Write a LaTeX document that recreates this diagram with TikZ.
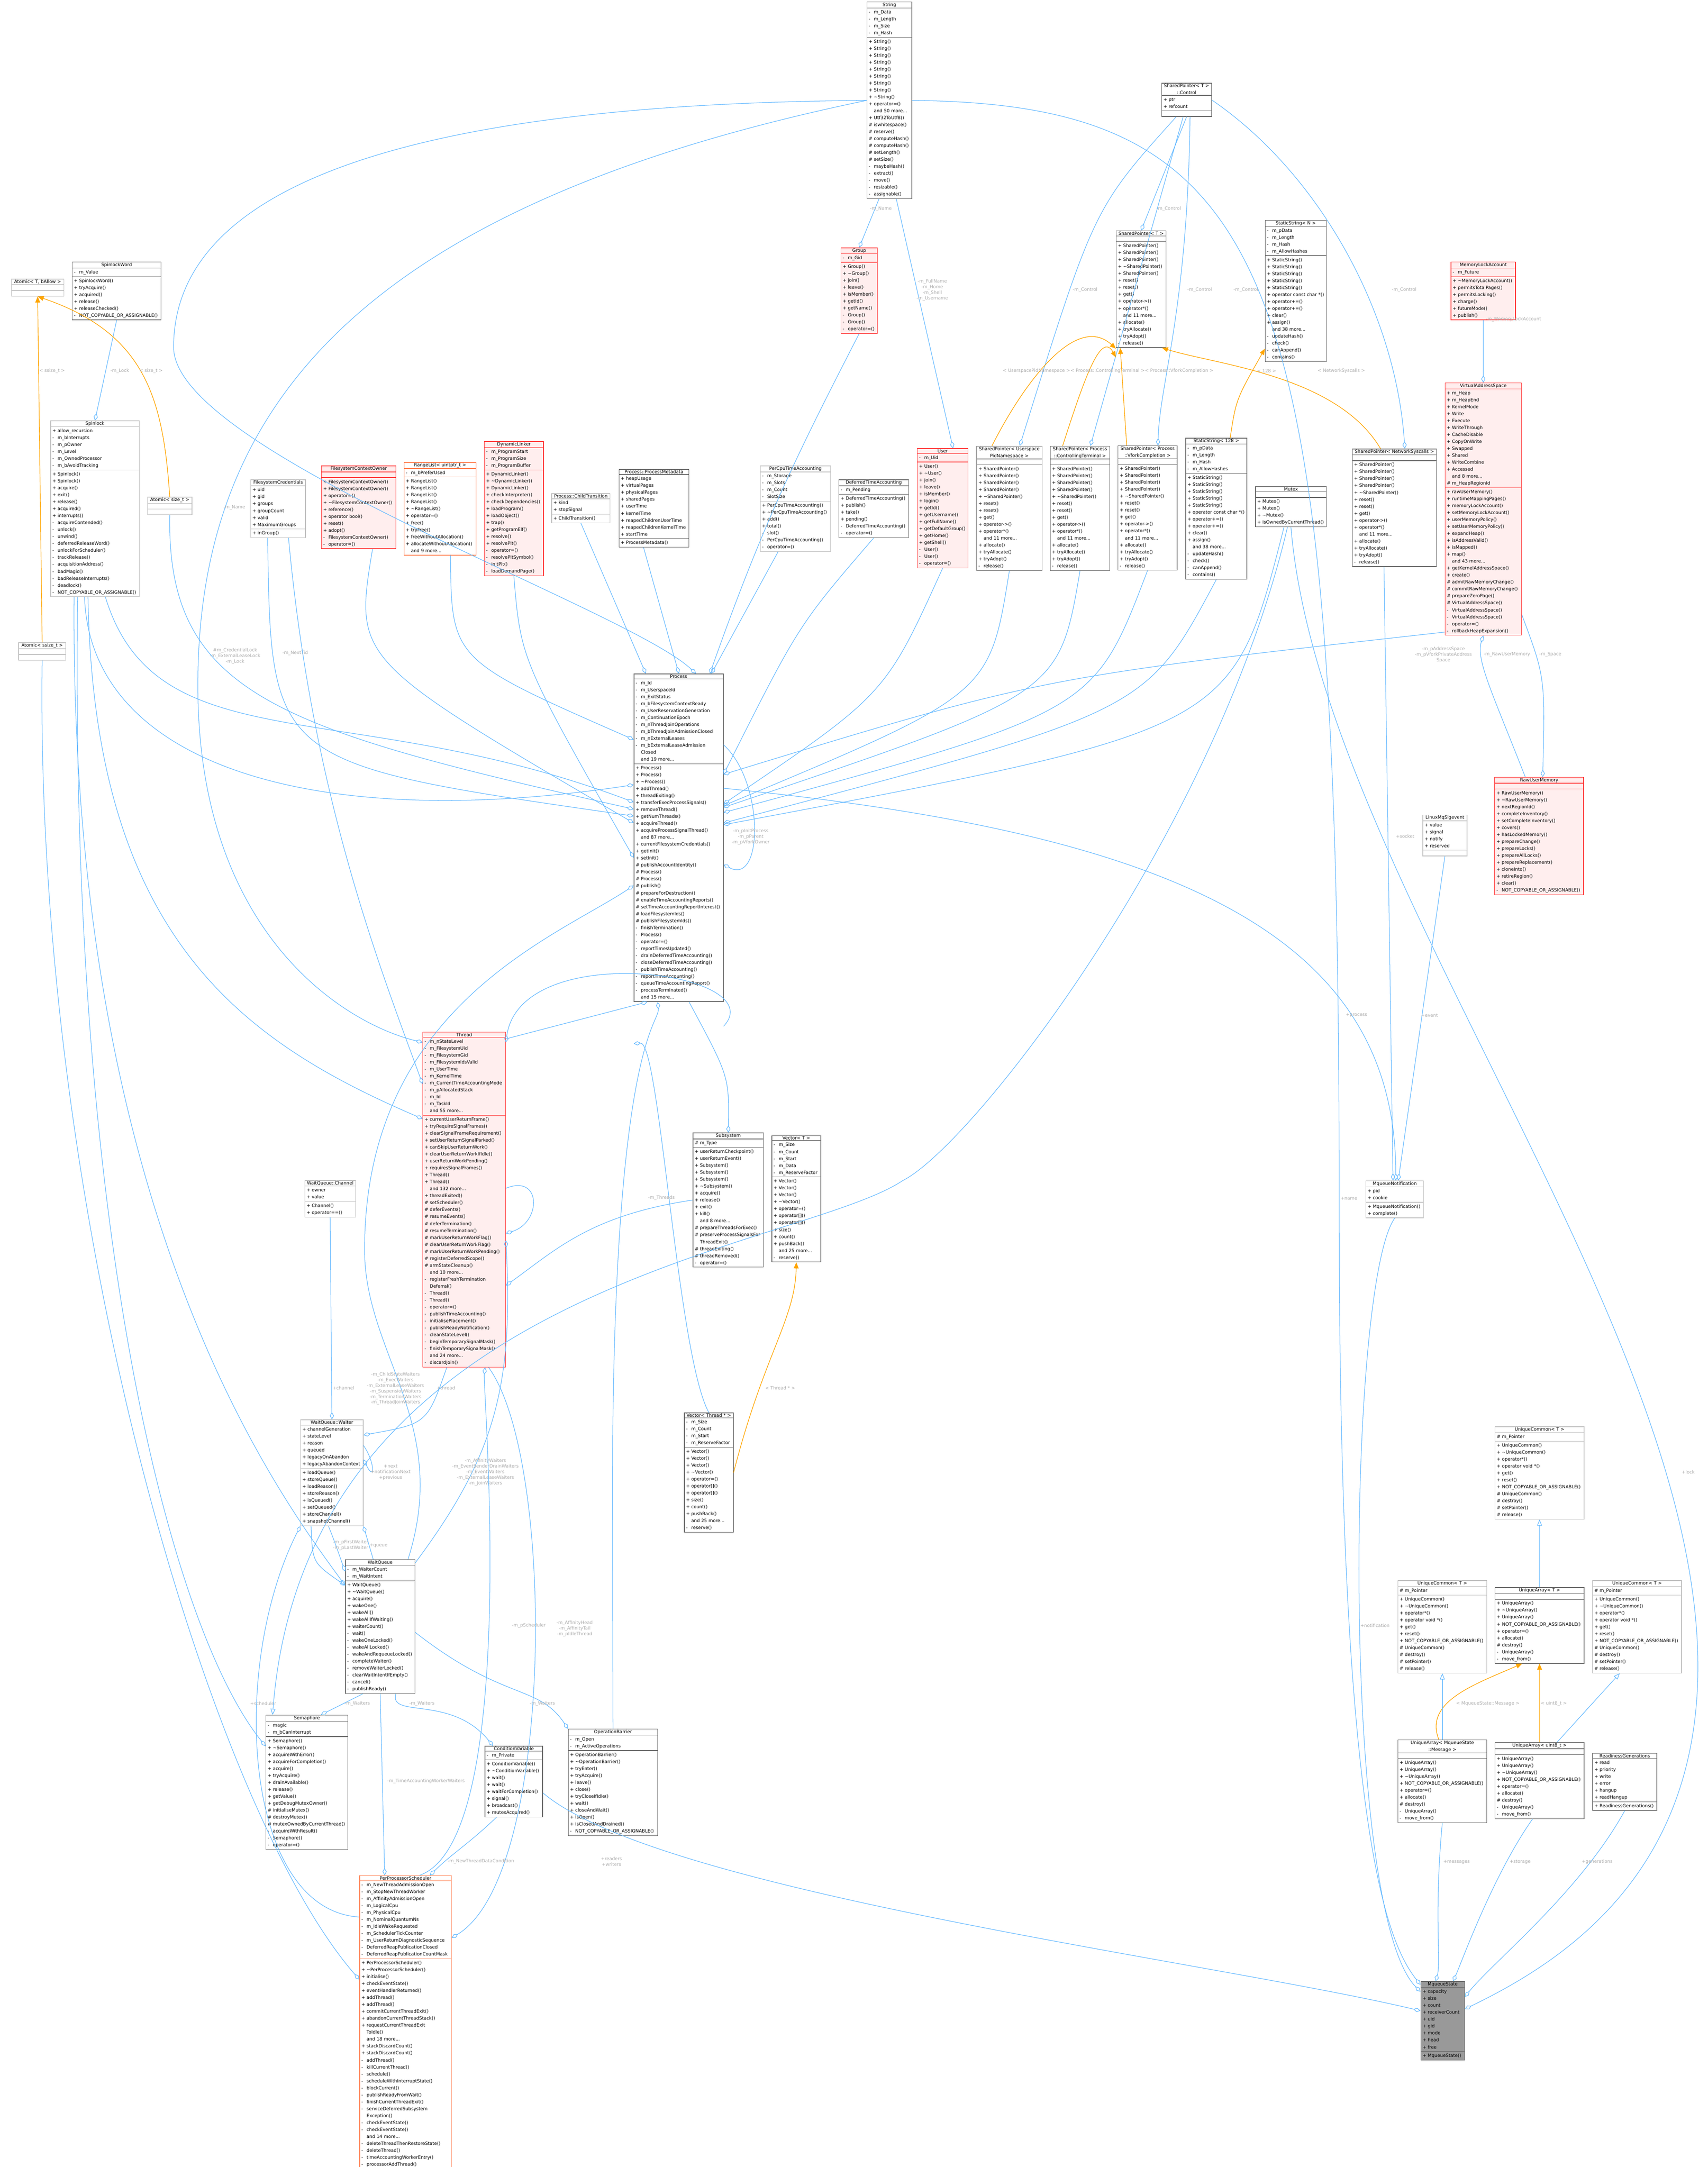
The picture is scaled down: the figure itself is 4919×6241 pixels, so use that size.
\documentclass[tikz,border=0pt]{standalone}
\usepackage{fontspec}
\setmainfont{DejaVu Sans}
\usetikzlibrary{shapes.multipart,arrows.meta}
\definecolor{eb}{HTML}{63B8FF}
\definecolor{dg}{HTML}{666666}
\definecolor{lg}{HTML}{BFBFBF}
\definecolor{rb}{HTML}{FF3333}
\definecolor{rf}{HTML}{FFEEEE}
\definecolor{ob}{HTML}{FF7F50}
\definecolor{or}{HTML}{FFA500}
\definecolor{lt}{HTML}{ABABAB}
\definecolor{mq}{HTML}{999999}
\newcommand\tl{\textasciitilde}
\newcommand\Pu{+&}
\newcommand\Mi{-&}
\newcommand\Pt{\#&}
\newcommand\Nn{&}
\newcommand\R[1]{\begin{tabular}{@{}p{0.15cm}@{}l@{}}#1\end{tabular}}
\newcommand\E{\rule{0pt}{0.12cm}}
\newcommand\ttl[1]{\parbox{\linewidth}{\centering #1}}
\newcommand\uml[8]{\node[cls,#2,text width=#5] (#1) at (#3,-#4) {\ttl{#6}\nodepart{two}#7\nodepart{three}#8};}
\tikzset{
 cls/.style={rectangle split,rectangle split parts=3,draw=dg,fill=white,line width=0.5pt,anchor=north west,inner xsep=0.05cm,inner ysep=0.4pt,align=left,font=\fontsize{3.7}{5.69}\selectfont},
 dk/.style={draw=dg},
 lgt/.style={draw=lg},
 red/.style={draw=rb,fill=rf},
 org/.style={draw=ob},
 gry/.style={draw=dg,fill=mq},
 agg/.style={draw=eb,line width=0.45pt,-{Diamond[open,length=6pt,width=3.4pt]}},
 tpl/.style={draw=or,line width=0.5pt,-{Triangle[length=5pt,width=4pt,fill=or]}},
 inh/.style={draw=eb,line width=0.45pt,-{Triangle[open,length=5pt,width=4pt,fill=white]}},
 lbl/.style={text=lt,align=center,font=\fontsize{3.7}{4.6}\selectfont,inner sep=0.5pt}
}
\begin{document}
\begin{tikzpicture}[x=0.01cm,y=0.01cm]
\useasboundingbox (0,0) rectangle (4919,-6241);
% ---------------- boxes ----------------
\uml{atT}{lgt}{32}{803}{1.41cm}{Atomic< T, bAllow >}{\E}{\E}
\uml{sw}{dk}{207}{754}{2.46cm}{SpinlockWord}{\R{\Mi m\_Value}}{\R{\Pu SpinlockWord()\\ \Pu tryAcquire()\\ \Pu acquired()\\ \Pu release()\\ \Pu releaseChecked()\\ \Mi NOT\_COPYABLE\_OR\_ASSIGNABLE()}}
\uml{spin}{lgt}{145}{1211}{2.45cm}{Spinlock}{\R{\Pu allow\_recursion\\ \Mi m\_bInterrupts\\ \Mi m\_pOwner\\ \Mi m\_Level\\ \Mi m\_OwnedProcessor\\ \Mi m\_bAvoidTracking}}{\R{\Pu Spinlock()\\ \Pu Spinlock()\\ \Pu acquire()\\ \Pu exit()\\ \Pu release()\\ \Pu acquired()\\ \Pu interrupts()\\ \Mi acquireContended()\\ \Mi unlock()\\ \Mi unwind()\\ \Mi deferredReleaseWord()\\ \Mi unlockForScheduler()\\ \Mi trackRelease()\\ \Mi acquisitionAddress()\\ \Mi badMagic()\\ \Mi badReleaseInterrupts()\\ \Mi deadlock()\\ \Mi NOT\_COPYABLE\_OR\_ASSIGNABLE()}}
\uml{ats}{lgt}{424}{1431}{1.18cm}{Atomic< size\_t >}{\E}{\E}
\uml{atss}{lgt}{53}{1850}{1.25cm}{Atomic< ssize\_t >}{\E}{\E}
\uml{fcred}{lgt}{721}{1381}{1.48cm}{FilesystemCredentials}{\R{\Pu uid\\ \Pu gid\\ \Pu groups\\ \Pu groupCount\\ \Pu valid\\ \Pu MaximumGroups}}{\R{\Pu inGroup()}}
\uml{fctx}{red}{925}{1341}{2.04cm}{FilesystemContextOwner}{\E}{\R{\Pu FilesystemContextOwner()\\ \Pu FilesystemContextOwner()\\ \Pu operator=()\\ \Pu \tl FilesystemContextOwner()\\ \Pu reference()\\ \Pu operator bool()\\ \Pu reset()\\ \Pu adopt()\\ \Mi FilesystemContextOwner()\\ \Mi operator=()}}
\uml{rl}{org}{1163}{1331}{1.97cm}{RangeList< uintptr\_t >}{\R{\Mi m\_bPreferUsed}}{\R{\Pu RangeList()\\ \Pu RangeList()\\ \Pu RangeList()\\ \Pu RangeList()\\ \Pu \tl RangeList()\\ \Pu operator=()\\ \Pu free()\\ \Pu tryFree()\\ \Pu freeWithoutAllocation()\\ \Pu allocateWithoutAllocation()\\ \Nn and 9 more...}}
\uml{dl}{red}{1394}{1271}{1.60cm}{DynamicLinker}{\R{\Mi m\_ProgramStart\\ \Mi m\_ProgramSize\\ \Mi m\_ProgramBuffer}}{\R{\Pu DynamicLinker()\\ \Pu \tl DynamicLinker()\\ \Pu DynamicLinker()\\ \Pu checkInterpreter()\\ \Pu checkDependencies()\\ \Pu loadProgram()\\ \Pu loadObject()\\ \Pu trap()\\ \Pu getProgramElf()\\ \Pu resolve()\\ \Pu resolvePlt()\\ \Mi operator=()\\ \Mi resolvePltSymbol()\\ \Mi initPlt()\\ \Mi loadDemandPage()}}
\uml{ct}{lgt}{1588}{1421}{1.58cm}{Process::ChildTransition}{\R{\Pu kind\\ \Pu stopSignal}}{\R{\Pu ChildTransition()}}
\uml{pm}{dk}{1782}{1351}{1.91cm}{Process::ProcessMetadata}{\R{\Pu heapUsage\\ \Pu virtualPages\\ \Pu physicalPages\\ \Pu sharedPages\\ \Pu userTime\\ \Pu kernelTime\\ \Pu reapedChildrenUserTime\\ \Pu reapedChildrenKernelTime\\ \Pu startTime}}{\R{\Pu ProcessMetadata()}}
\uml{pcta}{lgt}{2189}{1341}{1.92cm}{PerCpuTimeAccounting}{\R{\Mi m\_Storage\\ \Mi m\_Slots\\ \Mi m\_Count\\ \Mi SlotSize}}{\R{\Pu PerCpuTimeAccounting()\\ \Pu \tl PerCpuTimeAccounting()\\ \Pu add()\\ \Pu total()\\ \Mi slot()\\ \Mi PerCpuTimeAccounting()\\ \Mi operator=()}}
\uml{dta}{dk}{2415}{1381}{1.91cm}{DeferredTimeAccounting}{\R{\Mi m\_Pending}}{\R{\Pu DeferredTimeAccounting()\\ \Pu publish()\\ \Pu take()\\ \Pu pending()\\ \Mi DeferredTimeAccounting()\\ \Mi operator=()}}
\uml{user}{red}{2641}{1291}{1.36cm}{User}{\R{\Mi m\_Uid}}{\R{\Pu User()\\ \Pu \tl User()\\ \Pu join()\\ \Pu leave()\\ \Pu isMember()\\ \Pu login()\\ \Pu getId()\\ \Pu getUsername()\\ \Pu getFullName()\\ \Pu getDefaultGroup()\\ \Pu getHome()\\ \Pu getShell()\\ \Mi User()\\ \Mi User()\\ \Mi operator=()}}
\newcommand\SPM{\R{\Pu SharedPointer()\\ \Pu SharedPointer()\\ \Pu SharedPointer()\\ \Pu SharedPointer()\\ \Pu \tl SharedPointer()\\ \Pu reset()\\ \Pu reset()\\ \Pu get()\\ \Pu operator->()\\ \Pu operator*()\\ \Nn and 11 more...\\ \Pu allocate()\\ \Pu tryAllocate()\\ \Pu tryAdopt()\\ \Mi release()}}
\uml{spu}{dk}{2812}{1284}{1.78cm}{SharedPointer< Userspace\\PidNamespace >}{\E}{\SPM}
\uml{spct}{dk}{3024}{1284}{1.61cm}{SharedPointer< Process\\::ControllingTerminal >}{\E}{\SPM}
\uml{spvf}{dk}{3219}{1283}{1.60cm}{SharedPointer< Process\\::VforkCompletion >}{\E}{\SPM}
\newcommand\SSA{\R{\Mi m\_pData\\ \Mi m\_Length\\ \Mi m\_Hash\\ \Mi m\_AllowHashes}}
\newcommand\SSM{\R{\Pu StaticString()\\ \Pu StaticString()\\ \Pu StaticString()\\ \Pu StaticString()\\ \Pu StaticString()\\ \Pu operator const char *()\\ \Pu operator+=()\\ \Pu operator+=()\\ \Pu clear()\\ \Pu assign()\\ \Nn and 38 more...\\ \Mi updateHash()\\ \Mi check()\\ \Mi canAppend()\\ \Mi contains()}}
\uml{ss128}{dk}{3414}{1261}{1.66cm}{StaticString< 128 >}{\SSA}{\SSM}
\uml{mutex}{dk}{3615}{1401}{1.94cm}{Mutex}{\E}{\R{\Pu Mutex()\\ \Pu Mutex()\\ \Pu \tl Mutex()\\ \Pu isOwnedByCurrentThread()}}
\uml{spnet}{dk}{3894}{1292}{2.32cm}{SharedPointer< NetworkSyscalls >}{\E}{\SPM}
\uml{str}{dk}{2496}{5}{1.19cm}{String}{\R{\Mi m\_Data\\ \Mi m\_Length\\ \Mi m\_Size\\ \Mi m\_Hash}}{\R{\Pu String()\\ \Pu String()\\ \Pu String()\\ \Pu String()\\ \Pu String()\\ \Pu String()\\ \Pu String()\\ \Pu String()\\ \Pu \tl String()\\ \Pu operator=()\\ \Nn and 50 more...\\ \Pu Utf32ToUtf8()\\ \Pt iswhitespace()\\ \Pt reserve()\\ \Pt computeHash()\\ \Pt computeHash()\\ \Pt setLength()\\ \Pt setSize()\\ \Mi maybeHash()\\ \Mi extract()\\ \Mi move()\\ \Mi resizable()\\ \Mi assignable()}}
\uml{grp}{red}{2421}{713}{0.95cm}{Group}{\R{\Mi m\_Gid}}{\R{\Pu Group()\\ \Pu \tl Group()\\ \Pu join()\\ \Pu leave()\\ \Pu isMember()\\ \Pu getId()\\ \Pu getName()\\ \Mi Group()\\ \Mi Group()\\ \Mi operator=()}}
\uml{ctl}{dk}{3345}{239}{1.33cm}{SharedPointer< T >\\::Control}{\R{\Pu ptr\\ \Pu refcount}}{\E}
\uml{spT}{dk}{3214}{664}{1.33cm}{SharedPointer< T >}{\E}{\R{\Pu SharedPointer()\\ \Pu SharedPointer()\\ \Pu SharedPointer()\\ \Pu \tl SharedPointer()\\ \Pu SharedPointer()\\ \Pu reset()\\ \Pu reset()\\ \Pu get()\\ \Pu operator->()\\ \Pu operator*()\\ \Nn and 11 more...\\ \Pu allocate()\\ \Pu tryAllocate()\\ \Pu tryAdopt()\\ \Mi release()}}
\uml{ssN}{dk}{3643}{634}{1.66cm}{StaticString< N >}{\SSA}{\SSM}
\uml{mla}{red}{4178}{754}{1.76cm}{MemoryLockAccount}{\R{\Mi m\_Future}}{\R{\Pu \tl MemoryLockAccount()\\ \Pu permitsTotalPages()\\ \Pu permitsLocking()\\ \Pu charge()\\ \Pu futureMode()\\ \Pu publish()}}
\uml{vas}{red}{4161}{1102}{2.10cm}{VirtualAddressSpace}{\R{\Pu m\_Heap\\ \Pu m\_HeapEnd\\ \Pu KernelMode\\ \Pu Write\\ \Pu Execute\\ \Pu WriteThrough\\ \Pu CacheDisable\\ \Pu CopyOnWrite\\ \Pu Swapped\\ \Pu Shared\\ \Pu WriteCombine\\ \Pu Accessed\\ \Nn and 8 more...\\ \Pt m\_HeapRegionId}}{\R{\Pu rawUserMemory()\\ \Pu runtimeMappingPages()\\ \Pu memoryLockAccount()\\ \Pu setMemoryLockAccount()\\ \Pu userMemoryPolicy()\\ \Pu setUserMemoryPolicy()\\ \Pu expandHeap()\\ \Pu isAddressValid()\\ \Pu isMapped()\\ \Pu map()\\ \Nn and 43 more...\\ \Pu getKernelAddressSpace()\\ \Pu create()\\ \Pt admitRawMemoryChange()\\ \Pt commitRawMemoryChange()\\ \Pt prepareZeroPage()\\ \Pt VirtualAddressSpace()\\ \Mi VirtualAddressSpace()\\ \Mi VirtualAddressSpace()\\ \Mi operator=()\\ \Mi rollbackHeapExpansion()}}
\uml{rum}{red}{4304}{2238}{2.46cm}{RawUserMemory}{\E}{\R{\Pu RawUserMemory()\\ \Pu \tl RawUserMemory()\\ \Pu nextRegionId()\\ \Pu completeInventory()\\ \Pu setCompleteInventory()\\ \Pu covers()\\ \Pu hasLockedMemory()\\ \Pu prepareChange()\\ \Pu prepareLocks()\\ \Pu prepareAllLocks()\\ \Pu prepareReplacement()\\ \Pu cloneInto()\\ \Pu retireRegion()\\ \Pu clear()\\ \Mi NOT\_COPYABLE\_OR\_ASSIGNABLE()}}
\uml{lmq}{lgt}{4097}{2346}{1.17cm}{LinuxMqSigevent}{\R{\Pu value\\ \Pu signal\\ \Pu notify\\ \Pu reserved}}{\E}
\uml{mqn}{lgt}{3933}{3400}{1.56cm}{MqueueNotification}{\R{\Pu pid\\ \Pu cookie}}{\R{\Pu MqueueNotification()\\ \Pu complete()}}
\uml{proc}{dk}{1825}{1940}{2.47cm}{Process}{\R{\Mi m\_Id\\ \Mi m\_UserspaceId\\ \Mi m\_ExitStatus\\ \Mi m\_bFilesystemContextReady\\ \Mi m\_UserReservationGeneration\\ \Mi m\_ContinuationEpoch\\ \Mi m\_nThreadJoinOperations\\ \Mi m\_bThreadJoinAdmissionClosed\\ \Mi m\_nExternalLeases\\ \Mi m\_bExternalLeaseAdmission\\ \Nn Closed\\ \Nn and 19 more...}}{\R{\Pu Process()\\ \Pu Process()\\ \Pu \tl Process()\\ \Pu addThread()\\ \Pu threadExiting()\\ \Pu transferExecProcessSignals()\\ \Pu removeThread()\\ \Pu getNumThreads()\\ \Pu acquireThread()\\ \Pu acquireProcessSignalThread()\\ \Nn and 87 more...\\ \Pu currentFilesystemCredentials()\\ \Pu getInit()\\ \Pu setInit()\\ \Pt publishAccountIdentity()\\ \Pt Process()\\ \Pt Process()\\ \Pt publish()\\ \Pt prepareForDestruction()\\ \Pt enableTimeAccountingReports()\\ \Pt setTimeAccountingReportInterest()\\ \Pt loadFilesystemIds()\\ \Pt publishFilesystemIds()\\ \Mi finishTermination()\\ \Mi Process()\\ \Mi operator=()\\ \Mi reportTimesUpdated()\\ \Mi drainDeferredTimeAccounting()\\ \Mi closeDeferredTimeAccounting()\\ \Mi publishTimeAccounting()\\ \Mi reportTimeAccounting()\\ \Mi queueTimeAccountingReport()\\ \Mi processTerminated()\\ \Nn and 15 more...}}
\uml{thr}{red}{1217}{2972}{2.28cm}{Thread}{\R{\Mi m\_nStateLevel\\ \Mi m\_FilesystemUid\\ \Mi m\_FilesystemGid\\ \Mi m\_FilesystemIdsValid\\ \Mi m\_UserTime\\ \Mi m\_KernelTime\\ \Mi m\_CurrentTimeAccountingMode\\ \Mi m\_pAllocatedStack\\ \Mi m\_Id\\ \Mi m\_TaskId\\ \Nn and 55 more...}}{\R{\Pu currentUserReturnFrame()\\ \Pu tryRequireSignalFrames()\\ \Pu clearSignalFrameRequirement()\\ \Pu setUserReturnSignalParked()\\ \Pu canSkipUserReturnWork()\\ \Pu clearUserReturnWorkIfIdle()\\ \Pu userReturnWorkPending()\\ \Pu requiresSignalFrames()\\ \Pu Thread()\\ \Pu Thread()\\ \Nn and 132 more...\\ \Pu threadExited()\\ \Pt setScheduler()\\ \Pt deferEvents()\\ \Pt resumeEvents()\\ \Pt deferTermination()\\ \Pt resumeTermination()\\ \Pt markUserReturnWorkFlag()\\ \Pt clearUserReturnWorkFlag()\\ \Pt markUserReturnWorkPending()\\ \Pt registerDeferredScope()\\ \Pt armStateCleanup()\\ \Nn and 10 more...\\ \Mi registerFreshTermination\\ \Nn Deferral()\\ \Mi Thread()\\ \Mi Thread()\\ \Mi operator=()\\ \Mi publishTimeAccounting()\\ \Mi initialisePlacement()\\ \Mi publishReadyNotification()\\ \Mi cleanStateLevel()\\ \Mi beginTemporarySignalMask()\\ \Mi finishTemporarySignalMask()\\ \Nn and 24 more...\\ \Mi discardJoin()}}
\uml{subs}{dk}{1995}{3262}{1.93cm}{Subsystem}{\R{\Pt m\_Type}}{\R{\Pu userReturnCheckpoint()\\ \Pu userReturnEvent()\\ \Pu Subsystem()\\ \Pu Subsystem()\\ \Pu Subsystem()\\ \Pu \tl Subsystem()\\ \Pu acquire()\\ \Pu release()\\ \Pu exit()\\ \Pu kill()\\ \Nn and 8 more...\\ \Pt prepareThreadsForExec()\\ \Pt preserveProcessSignalsFor\\ \Nn ThreadExit()\\ \Pt threadExiting()\\ \Pt threadRemoved()\\ \Mi operator=()}}
\newcommand\VEM{\R{\Pu Vector()\\ \Pu Vector()\\ \Pu Vector()\\ \Pu \tl Vector()\\ \Pu operator=()\\ \Pu operator[]()\\ \Pu operator[]()\\ \Pu size()\\ \Pu count()\\ \Pu pushBack()\\ \Nn and 25 more...\\ \Mi reserve()}}
\uml{vecT}{dk}{2222}{3270}{1.31cm}{Vector< T >}{\R{\Mi m\_Size\\ \Mi m\_Count\\ \Mi m\_Start\\ \Mi m\_Data\\ \Mi m\_ReserveFactor}}{\VEM}
\uml{vecTh}{dk}{1970}{4068}{1.31cm}{Vector< Thread * >}{\R{\Mi m\_Size\\ \Mi m\_Count\\ \Mi m\_Start\\ \Mi m\_ReserveFactor}}{\VEM}
\uml{chan}{lgt}{877}{3399}{1.36cm}{WaitQueue::Channel}{\R{\Pu owner\\ \Pu value}}{\R{\Pu Channel()\\ \Pu operator==()}}
\uml{wtr}{lgt}{865}{4088}{1.70cm}{WaitQueue::Waiter}{\R{\Pu channelGeneration\\ \Pu stateLevel\\ \Pu reason\\ \Pu queued\\ \Pu legacyOnAbandon\\ \Pu legacyAbandonContext}}{\R{\Pu loadQueue()\\ \Pu storeQueue()\\ \Pu loadReason()\\ \Pu storeReason()\\ \Pu isQueued()\\ \Pu setQueued()\\ \Pu storeChannel()\\ \Pu snapshotChannel()}}
\uml{wq}{dk}{994}{4491}{1.90cm}{WaitQueue}{\R{\Mi m\_WaiterCount\\ \Mi m\_WaitIntent}}{\R{\Pu WaitQueue()\\ \Pu \tl WaitQueue()\\ \Pu acquire()\\ \Pu wakeOne()\\ \Pu wakeAll()\\ \Pu wakeAllIfWaiting()\\ \Pu waiterCount()\\ \Mi wait()\\ \Mi wakeOneLocked()\\ \Mi wakeAllLocked()\\ \Mi wakeAndRequeueLocked()\\ \Mi completeWaiter()\\ \Mi removeWaiterLocked()\\ \Mi clearWaitIntentIfEmpty()\\ \Mi cancel()\\ \Mi publishReady()}}
\uml{sem}{dk}{765}{4939}{2.26cm}{Semaphore}{\R{\Mi magic\\ \Mi m\_bCanInterrupt}}{\R{\Pu Semaphore()\\ \Pu \tl Semaphore()\\ \Pu acquireWithError()\\ \Pu acquireForCompletion()\\ \Pu acquire()\\ \Pu tryAcquire()\\ \Pu drainAvailable()\\ \Pu release()\\ \Pu getValue()\\ \Pu getDebugMutexOwner()\\ \Pt initialiseMutex()\\ \Pt destroyMutex()\\ \Pt mutexOwnedByCurrentThread()\\ \Mi acquireWithResult()\\ \Mi Semaphore()\\ \Mi operator=()}}
\uml{cv}{dk}{1396}{5028}{1.56cm}{ConditionVariable}{\R{\Mi m\_Private}}{\R{\Pu ConditionVariable()\\ \Pu \tl ConditionVariable()\\ \Pu wait()\\ \Pu wait()\\ \Pu waitForCompletion()\\ \Pu signal()\\ \Pu broadcast()\\ \Pu mutexAcquired()}}
\uml{ob}{dk}{1636}{4979}{2.47cm}{OperationBarrier}{\R{\Mi m\_Open\\ \Mi m\_ActiveOperations}}{\R{\Pu OperationBarrier()\\ \Pu \tl OperationBarrier()\\ \Pu tryEnter()\\ \Pu tryAcquire()\\ \Pu leave()\\ \Pu close()\\ \Pu tryCloseIfIdle()\\ \Pu wait()\\ \Pu closeAndWait()\\ \Pu isOpen()\\ \Pu isClosedAndDrained()\\ \Mi NOT\_COPYABLE\_OR\_ASSIGNABLE()}}
\uml{pps}{org}{1035}{5401}{2.54cm}{PerProcessorScheduler}{\R{\Mi m\_NewThreadAdmissionOpen\\ \Mi m\_StopNewThreadWorker\\ \Mi m\_AffinityAdmissionOpen\\ \Mi m\_LogicalCpu\\ \Mi m\_PhysicalCpu\\ \Mi m\_NominalQuantumNs\\ \Mi m\_IdleWakeRequested\\ \Mi m\_SchedulerTickCounter\\ \Mi m\_UserReturnDiagnosticSequence\\ \Mi DeferredReapPublicationClosed\\ \Mi DeferredReapPublicationCountMask}}{\R{\Pu PerProcessorScheduler()\\ \Pu \tl PerProcessorScheduler()\\ \Pu initialise()\\ \Pu checkEventState()\\ \Pu eventHandlerReturned()\\ \Pu addThread()\\ \Pu addThread()\\ \Pu commitCurrentThreadExit()\\ \Pu abandonCurrentThreadStack()\\ \Pu requestCurrentThreadExit\\ \Nn ToIdle()\\ \Nn and 18 more...\\ \Pu stackDiscardCount()\\ \Pu stackDiscardCount()\\ \Mi addThread()\\ \Mi killCurrentThread()\\ \Mi schedule()\\ \Mi scheduleWithInterruptState()\\ \Mi blockCurrent()\\ \Mi publishReadyFromWait()\\ \Mi finishCurrentThreadExit()\\ \Mi serviceDeferredSubsystem\\ \Nn Exception()\\ \Mi checkEventState()\\ \Mi checkEventState()\\ \Nn and 14 more...\\ \Mi deleteThreadThenRestoreState()\\ \Mi deleteThread()\\ \Mi timeAccountingWorkerEntry()\\ \Mi processorAddThread()}}
\newcommand\UCA{\R{\Pt m\_Pointer}}
\newcommand\UCM{\R{\Pu UniqueCommon()\\ \Pu \tl UniqueCommon()\\ \Pu operator*()\\ \Pu operator void *()\\ \Pu get()\\ \Pu reset()\\ \Pu NOT\_COPYABLE\_OR\_ASSIGNABLE()\\ \Pt UniqueCommon()\\ \Pt destroy()\\ \Pt setPointer()\\ \Pt release()}}
\uml{ucT}{lgt}{4305}{4108}{2.46cm}{UniqueCommon< T >}{\UCA}{\UCM}
\uml{ucL}{lgt}{4025}{4551}{2.46cm}{UniqueCommon< T >}{\UCA}{\UCM}
\uml{ucR}{lgt}{4586}{4551}{2.46cm}{UniqueCommon< T >}{\UCA}{\UCM}
\uml{uaT}{dk}{4305}{4571}{2.46cm}{UniqueArray< T >}{\E}{\R{\Pu UniqueArray()\\ \Pu \tl UniqueArray()\\ \Pu UniqueArray()\\ \Pu NOT\_COPYABLE\_OR\_ASSIGNABLE()\\ \Pu operator=()\\ \Pu allocate()\\ \Pt destroy()\\ \Mi UniqueArray()\\ \Mi move\_from()}}
\uml{uaM}{dk}{4025}{5010}{2.46cm}{UniqueArray< MqueueState\\::Message >}{\E}{\R{\Pu UniqueArray()\\ \Pu UniqueArray()\\ \Pu \tl UniqueArray()\\ \Pu NOT\_COPYABLE\_OR\_ASSIGNABLE()\\ \Pu operator=()\\ \Pu allocate()\\ \Pt destroy()\\ \Mi UniqueArray()\\ \Mi move\_from()}}
\uml{ua8}{dk}{4305}{5018}{2.46cm}{UniqueArray< uint8\_t >}{\E}{\R{\Pu UniqueArray()\\ \Pu UniqueArray()\\ \Pu \tl UniqueArray()\\ \Pu NOT\_COPYABLE\_OR\_ASSIGNABLE()\\ \Pu operator=()\\ \Pu allocate()\\ \Pt destroy()\\ \Mi UniqueArray()\\ \Mi move\_from()}}
\uml{rg}{dk}{4586}{5049}{1.75cm}{ReadinessGenerations}{\R{\Pu read\\ \Pu priority\\ \Pu write\\ \Pu error\\ \Pu hangup\\ \Pu readHangup}}{\R{\Pu ReadinessGenerations()}}
\uml{mqs}{gry}{4091}{5706}{1.16cm}{MqueueState}{\R{\Pu capacity\\ \Pu size\\ \Pu count\\ \Pu receiverCount\\ \Pu uid\\ \Pu gid\\ \Pu mode\\ \Pu head\\ \Pu free}}{\R{\Pu MqueueState()}}
% ---------------- connectors ----------------
\draw[agg] (sw.south) -- (spin.north);
\node[lbl] at (345,-1068) {-m\_Lock};
\draw[tpl] (atss.north) -- (atT.south);
\node[lbl] at (150,-1068) {< ssize\_t >};
\draw[tpl] (ats.north) .. controls (470,-1150) and (420,-960) .. (atT.south);
\node[lbl] at (435,-1068) {< size\_t >};
\draw[agg] ([xshift=-0.3cm]str.south) -- (grp.north);
\node[lbl] at (2537,-601) {-m\_Name};
\draw[agg] ([xshift=0.2cm]str.south) -- ([xshift=0.3cm]user.north);
\node[lbl] at (2685,-835) {-m\_FullName\\-m\_Home\\-m\_Shell\\-m\_Username};
\draw[agg] (ctl.south) -- (spT.north);
\node[lbl] at (3366,-601) {-m\_Control};
\draw[agg] ([xshift=-0.3cm]ctl.south) .. controls (3150,-600) .. ([xshift=0.3cm]spu.north);
\node[lbl] at (3125,-835) {-m\_Control};
\draw[agg] ([xshift=-0.1cm]ctl.south) -- ([xshift=0.3cm]spct.north);
\node[lbl] at (3455,-835) {-m\_Control};
\draw[agg] ([xshift=0.1cm]ctl.south) .. controls (3420,-900) and (3340,-1100) .. ([xshift=0.3cm]spvf.north);
\node[lbl] at (3588,-835) {-m\_Control};
\draw[agg] (ctl.east) .. controls (3800,-500) and (4020,-900) .. ([xshift=0.3cm]spnet.north);
\node[lbl] at (4044,-835) {-m\_Control};
\draw[tpl] ([xshift=-0.5cm]spu.north) .. controls (2950,-1100) and (3100,-900) .. ([yshift=-3.4cm]spT.north west);
\node[lbl] at (2985,-1068) {< UserspacePidNamespace >};
\draw[tpl] ([xshift=-0.5cm]spct.north) .. controls (3120,-1100) and (3170,-950) .. ([yshift=-3.65cm]spT.north west);
\node[lbl] at (3190,-1068) {< Process::ControllingTerminal >};
\draw[tpl] ([xshift=-0.6cm]spvf.north) -- ([xshift=-0.6cm]spT.south);
\node[lbl] at (3396,-1068) {< Process::VforkCompletion >};
\draw[tpl] ([xshift=-0.4cm]spnet.north) .. controls (3850,-1080) and (3500,-1050) .. ([xshift=0.6cm]spT.south);
\node[lbl] at (3863,-1068) {< NetworkSyscalls >};
\draw[tpl] ([xshift=0.4cm]ss128.north) .. controls (3560,-1150) .. ([yshift=-3.7cm]ssN.north west);
\node[lbl] at (3648,-1068) {< 128 >};
\draw[agg] (mla.south) -- (vas.north);
\node[lbl,anchor=west] at (4277,-920) {-m\_MemoryLockAccount};
\draw[agg] ([xshift=-0.4cm]rum.north) .. controls (4300,-2000) and (4250,-1900) .. (vas.south);
\node[lbl] at (4340,-1885) {-m\_RawUserMemory};
\draw[agg] ([yshift=0.6cm]vas.south east) .. controls (4450,-1950) .. ([xshift=0.1cm]rum.north);
\node[lbl] at (4465,-1885) {-m\_Space};
\draw[agg] ([yshift=0.1cm]vas.south west) .. controls (3000,-1950) .. ([yshift=-2.9cm]proc.north east);
\node[lbl] at (4157,-1885) {-m\_pAddressSpace\\-m\_pVforkPrivateAddress\\Space};
\draw[agg] (lmq.south) -- ([xshift=0.1cm]mqn.north);
\node[lbl] at (4117,-2924) {+event};
\draw[agg] ([xshift=-0.3cm]spnet.south) -- ([xshift=-0.05cm]mqn.north);
\node[lbl] at (4047,-2408) {+socket};
\draw[agg] ([yshift=-3.3cm]proc.north east) .. controls (3400,-2400) and (4020,-2700) .. ([xshift=0.03cm]mqn.north);
\node[lbl] at (3907,-2924) {+process};
\draw[agg] (str.east) .. controls (3700,-300) and (3857,-800) .. (3857,-3500) .. controls (3857,-5300) and (4000,-5600) .. ([yshift=-0.1cm]mqs.north west);
\node[lbl] at (3885,-3452) {+name};
\draw[agg] (mqn.south) .. controls (3880,-3700) and (3860,-5500) .. ([yshift=-0.3cm]mqs.north west);
\node[lbl] at (3960,-4681) {+notification};
\draw[agg] (mutex.south) .. controls (3800,-2500) and (4890,-3800) .. (4890,-4800) .. controls (4890,-5400) and (4500,-5650) .. ([yshift=-0.8cm]mqs.north east);
\node[lbl] at (4862,-4239) {+lock};
\draw[agg] (uaM.south) .. controls (4130,-5500) and (4150,-5650) .. ([xshift=-0.2cm]mqs.north);
\draw[agg] ([xshift=-0.2cm]ua8.south) .. controls (4300,-5400) and (4210,-5650) .. ([xshift=0.3cm]mqs.north);
\node[lbl] at (4195,-5362) {+messages};
\node[lbl] at (4378,-5362) {+storage};
\draw[agg] (rg.south) .. controls (4550,-5450) and (4300,-5650) .. ([yshift=-0.45cm]mqs.north east);
\node[lbl] at (4600,-5362) {+generations};
\draw[agg] ([yshift=0.7cm]cv.south east) .. controls (1900,-5450) and (3500,-5650) .. ([yshift=-0.85cm]mqs.north west);
\node[lbl] at (1761,-5361) {+readers\\+writers};
\draw[tpl] ([xshift=-0.1cm]uaM.north) .. controls (4100,-4900) and (4250,-4850) .. ([xshift=-0.5cm]uaT.south);
\node[lbl] at (4285,-4906) {< MqueueState::Message >};
\draw[tpl] (ua8.north) -- (uaT.south);
\node[lbl] at (4475,-4906) {< uint8\_t >};
\draw[inh] (uaT.north) -- (ucT.south);
\draw[inh] (uaM.north) -- (ucL.south);
\draw[inh] ([xshift=0.5cm]ua8.north) -- ([xshift=-0.5cm]ucR.south);
% wait queue area
\draw[agg] (chan.south) -- (wtr.north);
\node[lbl] at (989,-3998) {+channel};
\draw[agg] ([xshift=-0.5cm]thr.south) .. controls (1230,-4100) .. ([yshift=-0.45cm]wtr.north east);
\node[lbl] at (1284,-3998) {+thread};
\draw[agg] ([yshift=-0.75cm]wtr.north east) .. controls (1080,-4210) and (1080,-4270) .. ([yshift=-1.15cm]wtr.north east);
\node[lbl] at (1125,-4240) {+next\\+notificationNext\\+previous};
\draw[agg] ([xshift=-0.1cm]wtr.south) .. controls (960,-4430) .. ([yshift=-0.35cm]wq.north west);
\draw[agg] ([xshift=-0.6cm]wtr.south) .. controls (900,-4500) .. ([yshift=-0.75cm]wq.north west);
\node[lbl] at (1010,-4450) {-m\_pFirstWaiter\\-m\_pLastWaiter};
\draw[agg] ([xshift=-0.2cm]wq.north) -- (wtr.south east);
\node[lbl] at (1090,-4452) {+queue};
\draw[agg] ([xshift=0.8cm]wq.north) .. controls (1300,-4100) and (1050,-3900) .. (1050,-3600) .. controls (1050,-2900) and (1600,-2700) .. ([yshift=-6.1cm]proc.north west);
\node[lbl] at (1139,-3999) {-m\_ChildStateWaiters\\-m\_ExecWaiters\\-m\_ExternalLeaseWaiters\\-m\_SuspensionWaiters\\-m\_TerminationWaiters\\-m\_ThreadJoinWaiters};
\draw[agg] ([yshift=-0.1cm]wq.north east) .. controls (1420,-4200) and (1480,-4000) .. ([yshift=-6.0cm]thr.north east);
\node[lbl] at (1398,-4240) {-m\_AffinityWaiters\\-m\_EventSenderDrainWaiters\\-m\_EventWaiters\\-m\_ExternalLeaseWaiters\\-m\_JoinWaiters};
\draw[agg] ([xshift=-0.5cm]wq.south) -- ([xshift=0.4cm]sem.north);
\node[lbl] at (1029,-4906) {-m\_Waiters};
\draw[agg] ([xshift=0.45cm]wq.south) .. controls (1120,-4950) and (1300,-4880) .. ([xshift=-0.6cm]cv.north);
\node[lbl] at (1215,-4906) {-m\_Waiters};
\draw[agg] ([yshift=-2.1cm]wq.north east) .. controls (1450,-4900) and (1550,-4850) .. (ob.north west);
\node[lbl] at (1562,-4906) {-m\_Waiters};
\draw[agg] (wq.south) -- ([xshift=-0.6cm]pps.north);
\node[lbl] at (1227,-5130) {-m\_TimeAccountingWorkerWaiters};
\draw[agg] ([yshift=-1.2cm]pps.north west) .. controls (700,-5500) and (660,-4800) .. (wtr.south west);
\node[lbl] at (758,-4906) {+scheduler};
\draw[agg] ([xshift=0.4cm]pps.north) .. controls (1500,-5300) and (1390,-4000) .. ([xshift=0.6cm]thr.south);
\node[lbl] at (1523,-4682) {-m\_pScheduler};
\draw[agg] ([xshift=0.7cm]thr.south) .. controls (1600,-4200) and (1600,-5400) .. ([yshift=-1.8cm]pps.north east);
\node[lbl] at (1655,-4690) {-m\_AffinityHead\\-m\_AffinityTail\\-m\_pIdleThread};
\draw[agg] ([xshift=-0.5cm]cv.south) .. controls (1350,-5310) and (1300,-5340) .. ([xshift=0.7cm]pps.north);
\node[lbl] at (1385,-5361) {-m\_NewThreadDataCondition};
\draw[agg] (ob.north) -- (1764,-4300) .. controls (1764,-3000) and (1900,-2950) .. ([xshift=-0.6cm]proc.south);
% Process/Thread hub
\draw[agg] ([yshift=-0.2cm]thr.north east) -- ([xshift=-0.9cm]proc.south);
\draw[agg] ([xshift=0.3cm]proc.south) .. controls (2100,-3100) .. (subs.north);
\draw[agg] ([yshift=-0.7cm]proc.south east) .. controls (2230,-2800) and (1500,-2700) .. ([yshift=-0.3cm]thr.north east);
\draw[agg] ([yshift=-2.05cm]proc.north east) .. controls (2200,-2250) and (2200,-2550) .. ([yshift=-5.5cm]proc.north east);
\node[lbl,anchor=west] at (2105,-2410) {-m\_pInitProcess\\-m\_pParent\\-m\_pVforkOwner};
\draw[agg] ([yshift=-4.5cm]thr.north east) .. controls (1560,-3380) and (1560,-3520) .. ([yshift=-5.8cm]thr.north east);
\draw[agg] (vecTh.north) .. controls (1950,-3900) and (1900,-3000) .. ([yshift=-1.2cm]proc.south west);
\node[lbl] at (1905,-3450) {-m\_Threads};
\draw[tpl] (vecTh.east) .. controls (2200,-3900) and (2290,-3800) .. (vecT.south);
\node[lbl] at (2247,-3998) {< Thread * >};
\draw[agg] (subs.west) .. controls (1700,-3500) and (1600,-3600) .. ([yshift=-7.3cm]thr.north east);
% sources into Process
\draw[agg] ([xshift=-0.3cm]spin.south) .. controls (260,-2200) and (900,-2400) .. ([yshift=-3.2cm]proc.north west);
\draw[agg] ([xshift=0.3cm]spin.south) .. controls (450,-2200) and (1000,-2000) .. ([yshift=-3.7cm]proc.north west);
\node[lbl] at (677,-1890) {\#m\_CredentialLock\\-m\_ExternalLeaseLock\\-m\_Lock};
\draw[agg] ([xshift=-0.2cm]spin.south) .. controls (270,-2700) and (700,-3000) .. ([yshift=-2.5cm]thr.north west);
\draw[agg] ([xshift=-0.5cm]spin.south) .. controls (200,-3600) and (500,-4700) .. ([yshift=-0.9cm]sem.north west);
\draw[agg] ([xshift=-0.6cm]spin.south) .. controls (200,-3500) and (800,-4300) .. ([yshift=-0.75cm]wq.north west);
\draw[agg] (ats.south) .. controls (480,-2000) and (800,-2100) .. ([yshift=-3.9cm]proc.north west);
\node[lbl] at (850,-1881) {-m\_NextTid};
\draw[agg] (atss.south) .. controls (100,-3500) and (600,-5200) .. ([yshift=-3.0cm]pps.north west);
\draw[agg] (str.west) .. controls (1000,-600) and (560,-1200) .. (570,-2000) .. controls (580,-2700) and (1000,-2950) .. ([yshift=-0.3cm]thr.north west);
\node[lbl] at (675,-1462) {-m\_Name};
\draw[agg] ([xshift=-0.3cm]fcred.south) .. controls (780,-2200) .. ([yshift=-4.1cm]proc.north west);
\draw[agg] ([xshift=0.3cm]fcred.south) .. controls (900,-2300) and (1100,-2800) .. ([yshift=-1.5cm]thr.north west);
\draw[agg] ([xshift=0.4cm]fctx.south) .. controls (1020,-1900) .. ([yshift=-4.3cm]proc.north west);
\draw[agg] ([xshift=0.3cm]rl.south) .. controls (1300,-1900) .. ([yshift=-1.9cm]proc.north west);
\draw[agg] (dl.south) .. controls (1500,-1900) .. ([yshift=-5.3cm]proc.north west);
\draw[agg] (ct.south) -- ([xshift=0.35cm]proc.north west);
\draw[agg] ([xshift=-0.3cm]pm.south) -- ([xshift=1.3cm]proc.north west);
\draw[agg] ([xshift=-0.5cm]pcta.south) -- ([xshift=-0.35cm]proc.north east);
\draw[agg] (dta.south) .. controls (2300,-1800) .. ([yshift=-2.9cm]proc.north east);
\draw[agg] (user.south) .. controls (2550,-2000) .. ([yshift=-3.75cm]proc.north east);
\draw[agg] (spu.south) .. controls (2850,-2000) .. ([yshift=-3.8cm]proc.north east);
\draw[agg] (spct.south) .. controls (3050,-2000) .. ([yshift=-3.85cm]proc.north east);
\draw[agg] (spvf.south) .. controls (3150,-2050) .. ([yshift=-4.0cm]proc.north east);
\draw[agg] (ss128.south) .. controls (3300,-2050) .. ([yshift=-4.3cm]proc.north east);
\draw[agg] ([xshift=-0.2cm]mutex.south) .. controls (3550,-2100) .. ([yshift=-4.35cm]proc.north east);
\draw[inh] ([xshift=-0.1cm]mutex.south) .. controls (3500,-2400) and (2800,-3300) .. (2600,-3400) .. controls (2300,-3600) and (880,-3700) .. ([xshift=0.2cm]sem.north west);
\draw[agg] (str.west) .. controls (1000,-300) and (500,-600) .. (500,-1000) .. controls (500,-1300) and (1800,-1750) .. ([xshift=0.5cm]proc.north);
\draw[agg] (grp.south) .. controls (2300,-1300) and (2200,-1500) .. ([xshift=0.9cm]proc.north);
\end{tikzpicture}
\end{document}
